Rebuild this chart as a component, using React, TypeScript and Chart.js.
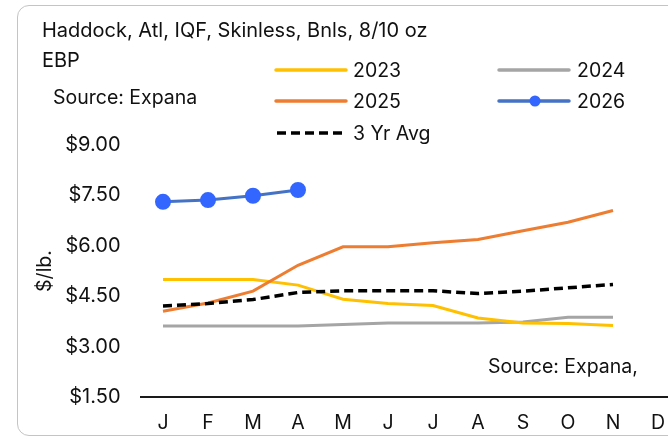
import React, { useEffect, useRef } from "react";
import { Chart, registerables } from "chart.js";

Chart.register(...registerables);

const months = ["J", "F", "M", "A", "M", "J", "J", "A", "S", "O", "N", "D"];
const s2023 = [5.0, 5.0, 5.0, 4.83, 4.41, 4.28, 4.22, 3.85, 3.7, 3.69, 3.63, null];
const s2024 = [3.61, 3.61, 3.61, 3.61, 3.66, 3.7, 3.7, 3.7, 3.73, 3.87, 3.87, null];
const s2025 = [4.05, 4.3, 4.65, 5.42, 5.97, 5.97, 6.09, 6.19, 6.45, 6.7, 7.05, null];
const s2026 = [7.31, 7.36, 7.49, 7.66, null, null, null, null, null, null, null, null];
const avg3 = [4.21, 4.28, 4.4, 4.61, 4.66, 4.66, 4.66, 4.58, 4.65, 4.75, 4.85, null];
const yMin = 1.5;
const yMax = 9;
const yStep = 1.5;

const FONT = "Inter, 'Noto Sans', sans-serif";

export default function App() {
  const ref = useRef<HTMLCanvasElement | null>(null);

  useEffect(() => {
    if (!ref.current) return;
    const chart = new Chart(ref.current, {
      type: "line",
      data: {
        labels: months,
        datasets: [
          { label: "3 Yr Avg", data: avg3, borderColor: "#000000", borderWidth: 3.5, borderDash: [9, 5], pointRadius: 0, tension: 0, order: 1 },
          { label: "2026", data: s2026, borderColor: "#4472C4", backgroundColor: "#3366FF", pointBackgroundColor: "#3366FF", pointBorderColor: "#3366FF", borderWidth: 3, pointRadius: 6.5, tension: 0, order: 0 },
          { label: "2025", data: s2025, borderColor: "#ED7D31", borderWidth: 3, pointRadius: 0, tension: 0, order: 2 },
          { label: "2024", data: s2024, borderColor: "#A5A5A5", borderWidth: 3, pointRadius: 0, tension: 0, order: 4 },
          { label: "2023", data: s2023, borderColor: "#FFC000", borderWidth: 3, pointRadius: 0, tension: 0, order: 3 },
        ],
      },
      options: {
        responsive: false,
        animation: false,
        devicePixelRatio: 1,
        layout: { padding: { left: 20, top: 145, right: 19.5, bottom: 0 } },
        plugins: {
          legend: { display: false },
          title: { display: false },
          tooltip: { enabled: false },
        },
        scales: {
          x: {
            type: "category",
            offset: true,
            grid: { display: false, drawTicks: false },
            border: { display: true, color: "#1a1a1a", width: 2 },
            ticks: { padding: 14, color: "#111111", font: { family: FONT, size: 19.5 }, maxRotation: 0, autoSkip: false },
            afterFit: (s: any) => { s.height = 41; },
          },
          y: {
            min: yMin,
            max: yMax,
            grid: { display: false, drawTicks: false },
            border: { display: false },
            ticks: {
              stepSize: yStep,
              padding: 20,
              color: "#111111",
              font: { family: FONT, size: 20 },
              callback: (v: any) => "$" + Number(v).toFixed(2),
            },
            title: { display: true, text: "$/lb.", color: "#111111", font: { family: FONT, size: 19.5 }, padding: { top: 13, bottom: 0 } },
            afterFit: (s: any) => { s.width = 120.5; },
          },
        },
      },
    });
    return () => chart.destroy();
  }, []);

  const txt = (left: number, cy: number, size: number, text: string, lh = 24) => (
    <div
      style={{
        position: "absolute",
        left,
        top: cy - lh / 2,
        height: lh,
        lineHeight: lh + "px",
        fontSize: size,
        fontFamily: FONT,
        color: "#111111",
        whiteSpace: "nowrap",
      }}
    >
      {text}
    </div>
  );

  return (
    <div style={{ position: "absolute", left: 0, top: 0, width: 668, height: 438, overflow: "hidden", background: "#ffffff" }}>
      <div
        style={{
          position: "absolute",
          left: 17,
          top: 5,
          width: 720,
          height: 431,
          border: "1.5px solid #c4c4c4",
          borderRadius: 12,
          boxSizing: "border-box",
        }}
      />
      <canvas ref={ref} width={700} height={438} style={{ position: "absolute", left: 0, top: 0, width: 700, height: 438 }} />
      <div
        style={{
          position: "absolute",
          left: 42,
          top: 15,
          fontSize: 20,
          lineHeight: "30px",
          fontFamily: FONT,
          color: "#111111",
          whiteSpace: "nowrap",
        }}
      >
        Haddock, Atl, IQF, Skinless, Bnls, 8/10 oz
        <br />
        EBP
      </div>
      {txt(53, 97, 19.5, "Source: Expana")}
      <svg style={{ position: "absolute", left: 0, top: 0 }} width={668} height={438}>
        <line x1={276} y1={70} x2={346} y2={70} stroke="#FFC000" strokeWidth={3.5} strokeLinecap="round" />
        <line x1={276} y1={101} x2={346} y2={101} stroke="#ED7D31" strokeWidth={3.5} strokeLinecap="round" />
        <line x1={277} y1={133} x2={345} y2={133} stroke="#000000" strokeWidth={3.5} strokeDasharray="9 5" />
        <line x1={499} y1={70} x2={569} y2={70} stroke="#A5A5A5" strokeWidth={3.5} strokeLinecap="round" />
        <line x1={499} y1={101} x2={569} y2={101} stroke="#4472C4" strokeWidth={3.5} strokeLinecap="round" />
        <circle cx={535} cy={101} r={5.5} fill="#3366FF" />
      </svg>
      {txt(353, 70, 19.5, "2023")}
      {txt(353, 101, 19.5, "2025")}
      {txt(353, 133, 19.5, "3 Yr Avg")}
      {txt(577, 70, 19.5, "2024")}
      {txt(577, 101, 19.5, "2026")}
      {txt(488, 366, 19.5, "Source: Expana,")}
    </div>
  );
}
